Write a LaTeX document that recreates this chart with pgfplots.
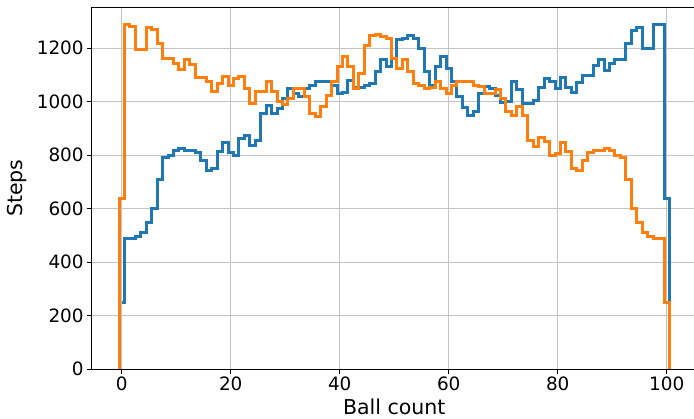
\documentclass[border=0pt]{standalone}
\usepackage{fontspec}
\setmainfont{DejaVu Sans}
\usepackage{pgfplots}
\pgfplotsset{compat=1.18}
\definecolor{mplblue}{HTML}{1F77B4}
\definecolor{mplorange}{HTML}{FF7F0E}
\definecolor{gridgray}{HTML}{C4C4C4}
\begin{document}
\begin{tikzpicture}
% fixed page frame (axis box starts at the origin)
\path[use as bounding box] (-91.5pt,-49.7pt) rectangle (602.5pt,369.3pt);
\clip (-91.5pt,-49.7pt) rectangle (602.5pt,369.3pt);
\begin{axis}[
  at={(0pt,0pt)}, anchor=south west,
  width=605.5pt, height=362pt, scale only axis,
  xmin=-5.55, xmax=105.55, ymin=0, ymax=1353,
  xtick={0,20,...,100}, ytick={0,200,...,1200},
  grid=major, grid style={color=gridgray, line width=1pt},
  tick align=outside, xtick pos=bottom, ytick pos=left,
  major tick length=4.3pt,
  tick style={line width=1pt, black},
  axis line style={line width=1pt, black},
  ticklabel style={font=\fontsize{18.4}{20}\selectfont},
  /pgf/number format/assume math mode=true,
  /pgf/number format/1000 sep={},
  xlabel={Ball count}, ylabel={Steps},
  label style={font=\fontsize{20.5}{22}\selectfont},
  xlabel style={at={(axis description cs:0.5,0)}, anchor=base, yshift=-45.7pt},
  ylabel style={at={(axis description cs:0,0.5)}, anchor=base, yshift=68.5pt},
]
% steps per ball count, first series
\addplot[const plot, draw=mplblue, line width=3pt, line join=miter] coordinates {
(0,250) (0.5,488) (1.5,490) (2.5,496) (3.5,510) (4.5,550) (5.5,600) (6.5,709) (7.5,791) (8.5,800) (9.5,819)
(10.5,825) (11.5,819) (12.5,819) (13.5,812) (14.5,781) (15.5,744) (16.5,750) (17.5,815) (18.5,846) (19.5,809)
(20.5,800) (21.5,862) (22.5,875) (23.5,837) (24.5,856) (25.5,956) (26.5,987) (27.5,956) (28.5,975) (29.5,1012)
(30.5,1050) (31.5,1029) (32.5,1021) (33.5,1050) (34.5,1062) (35.5,1077) (36.5,1077) (37.5,1075) (38.5,1062) (39.5,1030)
(40.5,1035) (41.5,1080) (42.5,1052) (43.5,1052) (44.5,1059) (45.5,1069) (46.5,1112) (47.5,1159) (48.5,1131) (49.5,1162)
(50.5,1231) (51.5,1237) (52.5,1246) (53.5,1237) (54.5,1200) (55.5,1112) (56.5,1062) (57.5,1131) (58.5,1169) (59.5,1125)
(60.5,1075) (61.5,1021) (62.5,979) (63.5,950) (64.5,962) (65.5,1029) (66.5,1056) (67.5,1050) (68.5,1025) (69.5,996)
(70.5,1000) (71.5,1075) (72.5,1044) (73.5,994) (74.5,994) (75.5,1006) (76.5,1053) (77.5,1087) (78.5,1077) (79.5,1050)
(80.5,1092) (81.5,1054) (82.5,1035) (83.5,1073) (84.5,1099) (85.5,1099) (86.5,1137) (87.5,1158) (88.5,1118) (89.5,1143)
(90.5,1158) (91.5,1158) (92.5,1219) (93.5,1265) (94.5,1276) (95.5,1200) (96.5,1200) (97.5,1289) (98.5,1289) (99.5,640)
(100.5,250)
};
% second series
\addplot[const plot, draw=mplorange, line width=3pt, line join=miter] coordinates {
(-0.5,0) (-0.5,640) (0.5,1287) (1.5,1283) (2.5,1196) (3.5,1196) (4.5,1279) (5.5,1269) (6.5,1219) (7.5,1160) (8.5,1160) (9.5,1144)
(10.5,1119) (11.5,1159) (12.5,1140) (13.5,1091) (14.5,1091) (15.5,1075) (16.5,1037) (17.5,1069) (18.5,1096) (19.5,1061)
(20.5,1087) (21.5,1096) (22.5,1050) (23.5,994) (24.5,1037) (25.5,1037) (26.5,1075) (27.5,1037) (28.5,1000) (29.5,991)
(30.5,1012) (31.5,1050) (32.5,1050) (33.5,1019) (34.5,956) (35.5,946) (36.5,981) (37.5,1025) (38.5,1075) (39.5,1131)
(40.5,1169) (41.5,1131) (42.5,1050) (43.5,1106) (44.5,1209) (45.5,1246) (46.5,1250) (47.5,1244) (48.5,1237) (49.5,1162)
(50.5,1125) (51.5,1156) (52.5,1112) (53.5,1069) (54.5,1059) (55.5,1050) (56.5,1052) (57.5,1077) (58.5,1050) (59.5,1029)
(60.5,1062) (61.5,1077) (62.5,1077) (63.5,1077) (64.5,1062) (65.5,1056) (66.5,1029) (67.5,1029) (68.5,1044) (69.5,1012)
(70.5,962) (71.5,950) (72.5,981) (73.5,950) (74.5,856) (75.5,831) (76.5,866) (77.5,852) (78.5,800) (79.5,806)
(80.5,846) (81.5,815) (82.5,750) (83.5,744) (84.5,781) (85.5,812) (86.5,819) (87.5,819) (88.5,825) (89.5,819)
(90.5,800) (91.5,791) (92.5,709) (93.5,600) (94.5,550) (95.5,510) (96.5,496) (97.5,490) (98.5,488) (99.5,250)
(100.5,0)
};
\end{axis}
\end{tikzpicture}
\end{document}
